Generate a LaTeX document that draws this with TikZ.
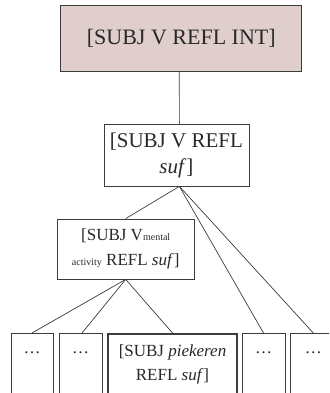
\documentclass[tikz,border=0pt]{standalone}
\usepackage{fontspec}
\setmainfont{Liberation Serif}
\definecolor{rootfill}{RGB}{224,206,205}
\definecolor{edgegray}{RGB}{60,60,60}
\definecolor{inkgray}{RGB}{40,40,40}

\begin{document}
\begin{tikzpicture}[x=1pt, y=-1pt,
  box/.style={draw=edgegray, line width=0.8pt, inner sep=0pt, align=center, text=inkgray},
  leaf/.style={box, anchor=north, minimum height=75pt},
  link/.style={draw=edgegray, line width=0.7pt},
  dots/.style={text=inkgray, font=\fontsize{17}{20}\selectfont}]
  % page frame; the lowest row runs off the bottom edge
  \clip (0,0) rectangle (329,393);

  % root construction
  \node[box, fill=rootfill, line width=1pt, minimum width=241pt, minimum height=66pt,
        font=\fontsize{22}{26}\selectfont] (root) at (181.3,38.2) {[SUBJ V REFL INT]};

  % reflexive suffix construction
  \node[box, minimum width=145pt, minimum height=62pt,
        font=\fontsize{21}{26}\selectfont] (mid) at (176.4,155) {[SUBJ V REFL\\ \textit{suf}]};

  % mental activity subtype
  \node[box, minimum width=137pt, minimum height=60pt,
        font=\fontsize{17}{25}\selectfont] (ment) at (125.7,249)
        {[SUBJ V{\fontsize{10}{12}\selectfont mental}\\
         {\fontsize{10}{12}\selectfont activity} REFL \textit{suf}]};

  % lowest row
  \node[leaf, minimum width=42pt] (b1) at (32,333) {};
  \node[leaf, minimum width=43pt] (b2) at (80.5,333) {};
  \node[leaf, minimum width=129pt, line width=1.8pt] (b3) at (172.5,333) {};
  \node[leaf, minimum width=43pt] (b4) at (263.5,333) {};
  \node[leaf, minimum width=45pt] (b5) at (313.3,333) {};

  \node[dots] (t1) at ([yshift=-20pt]b1.north) {…};
  \node[dots] (t2) at ([yshift=-20pt]b2.north) {…};
  \node[dots] (t4) at ([yshift=-20pt]b4.north) {…};
  \node[dots] (t5) at ([yshift=-20pt]b5.north) {…};
  \node[text=inkgray, align=center, font=\fontsize{17}{24}\selectfont] (t3)
        at ([yshift=-31pt]b3.north) {[SUBJ \textit{piekeren}\\ REFL \textit{suf}]};

  % connectors
  \draw[link] ([xshift=-2pt]root.south) -- ([xshift=3pt]mid.north);
  \draw[link] ([xshift=3pt]mid.south) -- (ment.north);
  \draw[link] ([xshift=3pt]mid.south) -- (b4.north);
  \draw[link] ([xshift=3pt]mid.south) -- (b5.north);
  \draw[link] (ment.south) -- (b1.north);
  \draw[link] (ment.south) -- ([xshift=1.5pt]b2.north);
  \draw[link] (ment.south) -- (b3.north);
\end{tikzpicture}
\end{document}
